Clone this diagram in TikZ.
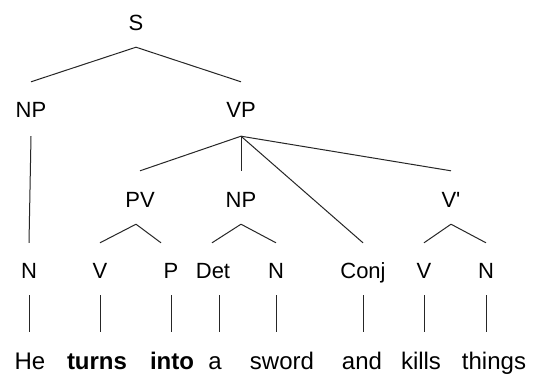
\documentclass[tikz,border=0pt]{standalone}
\usepackage{fontspec}
\setmainfont{Liberation Sans}
\begin{document}
\begin{tikzpicture}[x=1pt,y=1pt,
  lab/.style={inner sep=0pt, text height=16pt, text depth=0pt, font=\fontsize{22}{26}\selectfont},
  wd/.style={inner sep=0pt, text height=17pt, text depth=0pt, font=\fontsize{24}{28}\selectfont},
  edge/.style={draw=black!85, line width=1pt}]
\useasboundingbox[fill=white] (0,0) rectangle (536,-376);
% labels
\node[lab] (S) at (136,-22) {S};
\node[lab] (NP) at (31,-109) {NP};
\node[lab] (VP) at (241,-109) {VP};
\node[lab] (PV) at (140,-199) {PV};
\node[lab] (NPb) at (241,-199) {NP};
\node[lab] (Vbar) at (451,-199) {V\textquotesingle};
\node[lab] (N1) at (29,-270) {N};
\node[lab] (V1) at (100,-270) {V};
\node[lab] (P1) at (171,-270) {P};
\node[lab] (Det) at (213,-270) {Det};
\node[lab] (N2) at (276,-270) {N};
\node[lab] (Conj) at (363,-270) {Conj};
\node[lab] (V2) at (424,-270) {V};
\node[lab] (N3) at (486,-270) {N};
% words
\node[wd] (w1) at (30,-361) {He};
\node[wd] (w2) at (97,-361) {\textbf{turns}};
\node[wd] (w3) at (172,-361) {\textbf{into}};
\node[wd] (w4) at (215,-361) {a};
\node[wd] (w5) at (282,-361) {sword};
\node[wd] (w6) at (362,-361) {and};
\node[wd] (w7) at (421,-361) {kills};
\node[wd] (w8) at (494,-361) {things};
% apex coordinates
\coordinate (Sa) at ([yshift=-17pt]S.south);
\coordinate (NPa) at ([yshift=-19pt]NP.south);
\coordinate (VPa) at ([yshift=-19pt]VP.south);
\coordinate (PVa) at ([xshift=-4pt,yshift=-17pt]PV.south);
\coordinate (NPba) at ([yshift=-17pt]NPb.south);
\coordinate (Vbara) at ([yshift=-17pt]Vbar.south);
% edges
\draw[edge] (Sa) -- ([yshift=19pt]NP.north);
\draw[edge] (Sa) -- ([yshift=19pt]VP.north);
\draw[edge] (NPa) -- ([yshift=19pt]N1.north);
\draw[edge] (VPa) -- ([yshift=20pt]PV.north);
\draw[edge] (VPa) -- ([yshift=20pt]NPb.north);
\draw[edge] (VPa) -- ([yshift=19pt]Conj.north);
\draw[edge] (VPa) -- ([yshift=20pt]Vbar.north);
\draw[edge] (PVa) -- ([yshift=19pt]V1.north);
\draw[edge] (PVa) -- ([xshift=-10pt,yshift=19pt]P1.north);
\draw[edge] (NPba) -- ([xshift=-1pt,yshift=19pt]Det.north);
\draw[edge] (NPba) -- ([yshift=19pt]N2.north);
\draw[edge] (Vbara) -- ([yshift=19pt]V2.north);
\draw[edge] (Vbara) -- ([yshift=19pt]N3.north);
% vertical word links
\foreach \a/\b/\dx in {N1/w1/0, V1/w2/0, P1/w3/0, Det/w4/6, N2/w5/0, Conj/w6/0, V2/w7/0, N3/w8/0}
  \draw[edge] ([xshift=\dx pt,yshift=-17pt]\a.south) -- ([xshift=\dx pt,yshift=-54pt]\a.south);
\end{tikzpicture}
\end{document}
